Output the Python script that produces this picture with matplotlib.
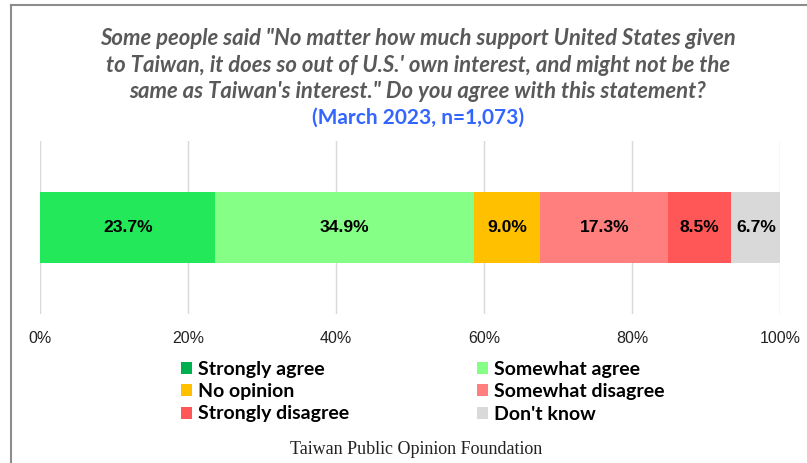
import matplotlib.pyplot as plt
from matplotlib.patches import Patch
from matplotlib.lines import Line2D

# data
categories = ["Strongly agree", "Somewhat agree", "No opinion",
              "Somewhat disagree", "Strongly disagree", "Don't know"]
values = [23.7, 34.9, 9.0, 17.3, 8.5, 6.7]
bar_colors = ["#22E85A", "#85FF85", "#FFC000", "#FF7F7F", "#FF5757", "#D9D9D9"]
legend_colors = ["#00B050", "#85FF85", "#FFC000", "#FF7F7F", "#FF5757", "#D9D9D9"]
xticks = [0, 20, 40, 60, 80, 100]

title_lines = [
    'Some people said "No matter how much support United States given',
    "to Taiwan, it does so out of U.S.' own interest, and might not be the",
    'same as Taiwan\'s interest." Do you agree with this statement?',
]
subtitle = "(March 2023, n=1,073)"
source = "Taiwan Public Opinion Foundation"

fig = plt.figure(figsize=(8.07, 4.63), dpi=100)
ax = fig.add_axes([40 / 807, 1 - 314 / 463, 740 / 807, 173 / 463])

left = 0
for v, c in zip(values, bar_colors):
    ax.barh(0, v, left=left, height=0.405, color=c, zorder=3)
    ax.text(left + v / 2, 0, f"{v:.1f}%", ha="center", va="center",
            fontsize=12.6, fontweight="bold", family="Liberation Sans",
            zorder=4)
    left += v

ax.set_xlim(0, 100)
ax.set_ylim(-0.5, 0.5)
ax.set_xticks(xticks)
ax.set_xticklabels([f"{t}%" for t in xticks], fontsize=11.5,
                   family="Liberation Sans", color="#222222")
ax.set_yticks([])
ax.tick_params(axis="x", length=0, pad=12)
ax.grid(axis="x", color="#D9D9D9", lw=1, zorder=0)
for s in ax.spines.values():
    s.set_visible(False)

# titles
ys = [38.5, 65, 91.5]
for line, y in zip(title_lines, ys):
    fig.text(418 / 807, 1 - y / 463, line, ha="center", va="center",
             fontsize=15.9, fontstyle="italic", fontweight="bold",
             family="Lato", color="#595959")
fig.text(418 / 807, 1 - 117.5 / 463, subtitle, ha="center", va="center",
         fontsize=15, fontweight="bold", family="Lato", color="#3366FF")

# legend (column-first order)
order = [0, 2, 4, 1, 3, 5]
handles = [Patch(facecolor=legend_colors[i], edgecolor="none") for i in order]
labels = [categories[i] for i in order]
fig.legend(handles, labels, ncol=2, loc="upper left",
           bbox_to_anchor=(181 / 807, 1 - 361 / 463), frameon=False,
           prop={"family": "Lato", "weight": "bold", "size": 14},
           handlelength=0.57, handleheight=0.57, handletextpad=0.3,
           columnspacing=6.6, labelspacing=0.27, borderaxespad=0,
           borderpad=0)

fig.text(416 / 807, 1 - 449 / 463, source, ha="center", va="center",
         fontsize=13, family="Liberation Serif", color="#222222")

# frame lines at top and left
fig.add_artist(Line2D([10.5 / 807, 10.5 / 807], [0, 1 - 5 / 463],
                      transform=fig.transFigure, color="#8C8C8C", lw=1.5))
fig.add_artist(Line2D([10.5 / 807, 1], [1 - 5 / 463, 1 - 5 / 463],
                      transform=fig.transFigure, color="#8C8C8C", lw=1.5))

fig.savefig("out.png", dpi=100)
